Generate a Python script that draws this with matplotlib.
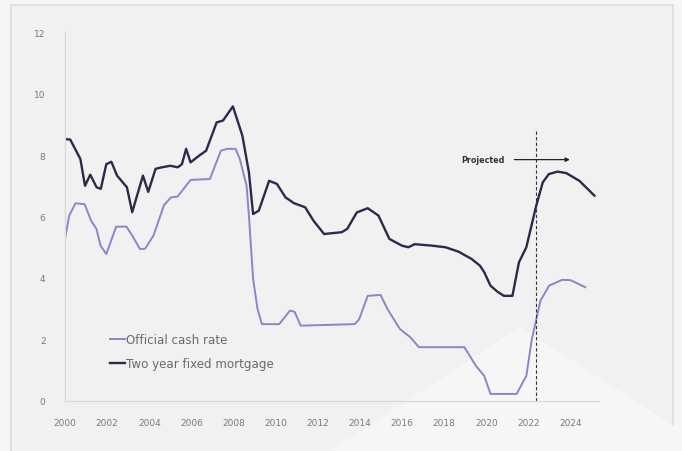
import numpy as np
import matplotlib.pyplot as plt
from matplotlib.patches import Rectangle, Polygon

# Two year fixed mortgage rate (%)
mort_year = [2000.0, 2000.25, 2000.73, 2000.95, 2001.2, 2001.5, 2001.7, 2001.96, 2002.2,
             2002.47, 2002.94, 2003.19, 2003.7, 2003.95, 2004.3, 2004.6, 2005.0, 2005.35,
             2005.55, 2005.75, 2005.96, 2006.37, 2006.7, 2007.2, 2007.5, 2007.97, 2008.42,
             2008.73, 2008.93, 2009.2, 2009.69, 2010.06, 2010.47, 2010.88, 2011.4, 2011.8,
             2012.3, 2013.14, 2013.4, 2013.85, 2014.37, 2014.88, 2015.4, 2016.0, 2016.3,
             2016.6, 2017.45, 2018.06, 2018.67, 2019.3, 2019.7, 2019.9, 2020.2, 2020.52,
             2020.83, 2021.24, 2021.55, 2021.9, 2022.37, 2022.68, 2022.97, 2023.39, 2023.8,
             2024.42, 2025.13]
mort_rate = [8.52, 8.5, 7.87, 7.0, 7.36, 6.95, 6.9, 7.7, 7.78,
             7.33, 6.95, 6.14, 7.33, 6.8, 7.55, 7.6, 7.65, 7.6,
             7.7, 8.2, 7.76, 7.98, 8.14, 9.06, 9.12, 9.58, 8.63,
             7.44, 6.08, 6.19, 7.16, 7.06, 6.62, 6.43, 6.3, 5.86,
             5.43, 5.49, 5.6, 6.13, 6.27, 6.03, 5.27, 5.05, 5.0,
             5.1, 5.05, 5.0, 4.86, 4.62, 4.4, 4.19, 3.75, 3.56,
             3.42, 3.42, 4.51, 5.0, 6.35, 7.11, 7.38, 7.46, 7.41,
             7.16, 6.68]

# Official cash rate (%)
ocr_year = [2000.0, 2000.2, 2000.5, 2000.93, 2001.24, 2001.49, 2001.69, 2001.96, 2002.43,
            2002.92, 2003.19, 2003.56, 2003.8, 2004.2, 2004.7, 2005.03, 2005.35, 2005.96,
            2006.88, 2007.4, 2007.7, 2008.1, 2008.3, 2008.62, 2008.73, 2008.93, 2009.14,
            2009.35, 2010.17, 2010.68, 2010.9, 2011.19, 2013.75, 2013.96, 2014.37, 2014.98,
            2015.3, 2015.9, 2016.4, 2016.8, 2018.96, 2019.5, 2019.9, 2020.2, 2021.44,
            2021.9, 2022.16, 2022.57, 2022.98, 2023.6, 2024.0, 2024.7]
ocr_rate = [5.27, 6.03, 6.43, 6.4, 5.86, 5.6, 5.05, 4.78, 5.67,
            5.67, 5.38, 4.94, 4.95, 5.38, 6.37, 6.62, 6.65, 7.19,
            7.22, 8.14, 8.2, 8.2, 7.87, 7.0, 6.03, 3.97, 2.99,
            2.5, 2.5, 2.94, 2.9, 2.45, 2.5, 2.65, 3.42, 3.45,
            3.0, 2.34, 2.07, 1.75, 1.75, 1.15, 0.82, 0.23, 0.23,
            0.82, 2.0, 3.26, 3.75, 3.94, 3.93, 3.7]

year_ticks = list(range(2000, 2025, 2))
rate_ticks = [0, 2, 4, 6, 8, 10, 12]
projection_start = 2022.35

navy = '#2b2a4c'
lavender = '#8a86c9'
grey_text = '#7a7a7a'

fig = plt.figure(figsize=(6.82, 4.52), dpi=100, facecolor='#f6f6f6')

# card panel behind the chart
fig.add_artist(Rectangle((11 / 682, -0.05), 662 / 682, 1.05 - 6 / 452,
                         transform=fig.transFigure, facecolor='#f1f1f1',
                         edgecolor='#dcdcdc', lw=1.2, zorder=-2))
# faint decorative triangle
fig.add_artist(Polygon([(330 / 682, 0), (520 / 682, 124 / 452), (682 / 682, 20 / 452),
                        (682 / 682, 0)], closed=True, transform=fig.transFigure,
                       facecolor='#f6f6f6', edgecolor='none', zorder=-1))

ax = fig.add_axes([65 / 682, 50 / 452, 534 / 682, 369 / 452])
ax.set_zorder(2)
ax.patch.set_alpha(0)

ax.plot(ocr_year, ocr_rate, color=lavender, lw=1.4, label='Official cash rate')
ax.plot(mort_year, mort_rate, color=navy, lw=1.7, label='Two year fixed mortgage')

ax.axvline(projection_start, ymin=0, ymax=8.85 / 12, color='#333333', lw=0.8,
           ls=(0, (3, 2)))
ax.annotate('', xy=(2024.1, 7.85), xytext=(2021.2, 7.85),
            arrowprops=dict(arrowstyle='-|>', color='#222222', lw=0.9,
                            mutation_scale=6))
ax.text(2020.85, 7.85, 'Projected', ha='right', va='center', fontsize=5.8,
        color='#333333', fontweight='semibold')

ax.set_xlim(2000, 2025.35)
ax.set_ylim(0, 12)
ax.set_xticks(year_ticks)
ax.set_xticklabels([str(y) for y in year_ticks])
ax.set_yticks(rate_ticks)
ax.tick_params(axis='both', length=0, labelsize=6.5, labelcolor=grey_text)
ax.tick_params(axis='x', pad=12)
ax.tick_params(axis='y', pad=14)

for side in ['top', 'right']:
    ax.spines[side].set_visible(False)
for side in ['left', 'bottom']:
    ax.spines[side].set_color('#d8d8d8')
    ax.spines[side].set_linewidth(0.9)

leg = ax.legend(loc='lower left', bbox_to_anchor=(0.065, 0.055), frameon=False,
                fontsize=8.6, handlelength=1.2, handletextpad=0.1, labelspacing=0.9,
                labelcolor='#6a6a6a')

fig.savefig('out.png', dpi=100, facecolor=fig.get_facecolor())
